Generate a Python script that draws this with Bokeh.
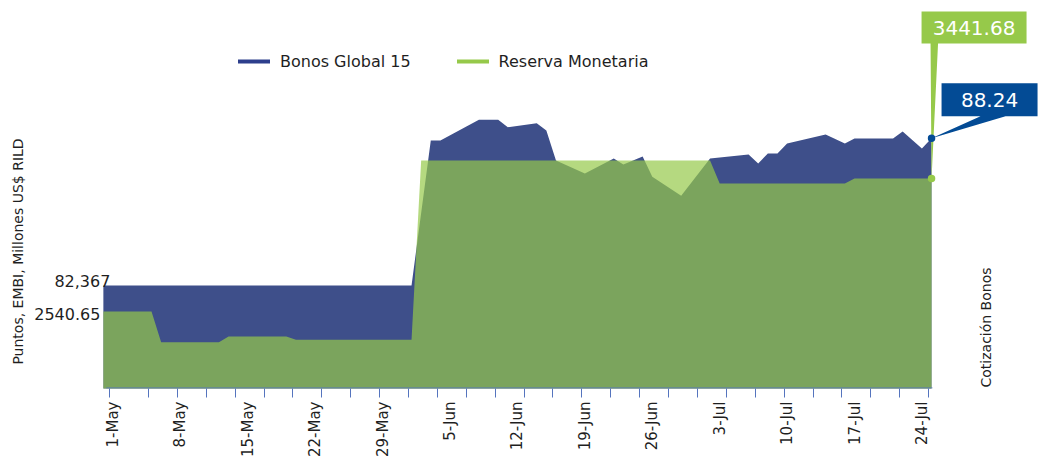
import math
import pandas as pd
from bokeh.plotting import figure
from bokeh.models import Range1d, FixedTicker, Legend, LegendItem, Label, PolyAnnotation
from bokeh.embed import file_html
from bokeh.resources import INLINE

# ---------------- data ----------------
base_date = pd.Timestamp("2013-05-01")

bonos_dates = ["2013-04-30", "2013-06-01", "2013-06-03", "2013-06-04", "2013-06-08",
               "2013-06-10", "2013-06-11", "2013-06-14", "2013-06-15", "2013-06-16",
               "2013-06-19", "2013-06-22", "2013-06-23", "2013-06-25", "2013-06-26",
               "2013-06-29", "2013-07-02", "2013-07-06", "2013-07-07", "2013-07-08",
               "2013-07-09", "2013-07-10", "2013-07-14", "2013-07-16", "2013-07-17",
               "2013-07-21", "2013-07-22", "2013-07-24", "2013-07-25"]
bonos_values = [82.367, 82.367, 88.15, 88.15, 88.98,
                88.98, 88.68, 88.84, 88.55, 87.35,
                86.83, 87.43, 87.19, 87.51, 86.70,
                85.95, 87.43, 87.59, 87.23, 87.63,
                87.63, 88.03, 88.39, 88.03, 88.23,
                88.23, 88.51, 87.83, 88.24]

reserva_dates = ["2013-04-30", "2013-05-05", "2013-05-06", "2013-05-12", "2013-05-13",
                 "2013-05-19", "2013-05-20", "2013-06-01", "2013-06-02", "2013-07-02",
                 "2013-07-03", "2013-07-16", "2013-07-17", "2013-07-25"]
reserva_values = [2540.65, 2540.65, 2332.6, 2332.6, 2371.3,
                  2371.3, 2348.9, 2348.9, 3563.7, 3563.7,
                  3407.9, 3407.9, 3441.68, 3441.68]

tick_labels = ["1-May", "8-May", "15-May", "22-May", "29-May", "5-Jun", "12-Jun",
               "19-Jun", "26-Jun", "3-Jul", "10-Jul", "17-Jul", "24-Jul"]

series_names = ["Bonos Global 15", "Reserva Monetaria"]
left_title = "Puntos, EMBI, Millones US$ RILD"
right_title = "Cotización Bonos"

# ---------------- helpers ----------------
def to_days(dates):
    return [(pd.Timestamp(d) - base_date).days for d in dates]

bonos_x = to_days(bonos_dates)
reserva_x = to_days(reserva_dates)
tick_pos = [(pd.to_datetime(t + "-2013", format="%d-%b-%Y") - base_date).days
            for t in tick_labels]

BLUE_AREA = "#3E4F8A"
BLUE_LINE = "#2D3E8C"
GREEN = "#96C94A"
CALLOUT_BLUE = "#034B95"
TICK_BLUE = "#5574BE"
TEXT = "#1f1f1f"
FONT = "DejaVu Sans"

# canvas / frame geometry in page pixels (frame covers the canvas above the axis)
W, H = 1038, 460
FB = 388                      # bottom of the frame (axis position)
X0, X1 = -11.682, 96.106      # days at px 0 and px W
Y0, Y1 = 2018.97, 4647.7      # reserva at px FB and px 0
YB0, YB1 = 78.26, 93.73       # bonos at px FB and px 0

def px_x(d):
    return (d - X0) / (X1 - X0) * W

def py_l(v):
    return FB - (v - Y0) / (Y1 - Y0) * FB

def py_r(v):
    return FB - (v - YB0) / (YB1 - YB0) * FB

def dx(px):
    return X0 + px / W * (X1 - X0)

def dy(py):
    return Y0 + (FB - py) / FB * (Y1 - Y0)

p = figure(width=W, height=H, x_range=Range1d(X0, X1), y_range=Range1d(Y0, Y1),
           output_backend="svg", toolbar_location=None, y_axis_location=None,
           min_border_left=0, min_border_right=0, min_border_top=0,
           min_border_bottom=H - FB)
p.extra_y_ranges = {"bonos": Range1d(YB0, YB1)}
p.outline_line_color = None
p.grid.visible = False
p.background_fill_color = "white"
p.border_fill_color = "white"

# areas
p.varea(x=bonos_x, y1=0, y2=bonos_values, fill_color=BLUE_AREA, y_range_name="bonos")
p.varea(x=reserva_x, y1=0, y2=reserva_values, fill_color=GREEN, fill_alpha=0.7)

# category axis line under the data only
p.segment(x0=[bonos_x[0] + 0.3], x1=[bonos_x[-1] + 0.1], y0=[dy(FB - 0.5)], y1=[dy(FB - 0.5)],
          line_color=TICK_BLUE, line_width=1)

# x axis
ax = p.xaxis[0]
minor = [-0.36] + [3.69 + 3.0 * k for k in range(28)]
ax.ticker = FixedTicker(ticks=tick_pos, minor_ticks=minor)
ax.major_label_overrides = {pos: lab for pos, lab in zip(tick_pos, tick_labels)}
ax.major_label_orientation = math.pi / 2
ax.major_tick_line_color = None
ax.major_tick_out = 9
ax.major_tick_in = 0
ax.minor_tick_in = 0
ax.minor_tick_out = 9
ax.minor_tick_line_color = TICK_BLUE
ax.axis_line_color = None
ax.major_label_standoff = 4
ax.major_label_text_font = FONT
ax.major_label_text_font_size = "15px"
ax.major_label_text_color = TEXT

# legend (line glyphs; their own data lies outside the visible range)
off_x = [X0 - 5, X0 - 4]
lb = p.line(off_x, [bonos_values[0]] * 2, line_color=BLUE_LINE, line_width=4,
            line_cap="round", y_range_name="bonos")
lg = p.line(off_x, [reserva_values[0]] * 2, line_color=GREEN, line_width=4,
            line_cap="round")
legend = Legend(items=[LegendItem(label=series_names[0], renderers=[lb]),
                       LegendItem(label=series_names[1], renderers=[lg])],
                orientation="horizontal", location=(238, FB - 61 - 10),
                glyph_width=32, glyph_height=20, label_height=20,
                label_standoff=10, spacing=46, padding=0, margin=0,
                label_text_font=FONT, label_text_font_size="16px",
                label_text_color=TEXT, background_fill_alpha=0,
                border_line_alpha=0)
p.add_layout(legend)

# first-value labels on the left
p.add_layout(Label(x=bonos_x[0], y=bonos_values[0], y_range_name="bonos",
                   text=f"{bonos_values[0]:.3f}".replace(".", ","),
                   x_offset=7, y_offset=4, text_align="right", text_baseline="alphabetic",
                   text_font=FONT, text_font_size="16px", text_color=TEXT))
p.add_layout(Label(x=reserva_x[0], y=reserva_values[0],
                   text=f"{reserva_values[0]:.2f}",
                   x_offset=-3, y_offset=-2, text_align="right", text_baseline="alphabetic",
                   text_font=FONT, text_font_size="16px", text_color=TEXT))

# axis titles
p.add_layout(Label(x=dx(17), y=dy(251), text=left_title, angle=math.pi / 2,
                   text_align="center", text_baseline="middle",
                   text_font=FONT, text_font_size="14px", text_color=TEXT))
p.add_layout(Label(x=dx(985), y=dy(327), text=right_title, angle=math.pi / 2,
                   text_align="center", text_baseline="middle",
                   text_font=FONT, text_font_size="14px", text_color=TEXT))

# callouts anchored to the last points
gx, gy = px_x(reserva_x[-1]), py_l(reserva_values[-1])
bx, by = px_x(bonos_x[-1]), py_r(bonos_values[-1])

g_top, g_bot = gy - 167, gy - 135
g_poly = [(gx - 10, g_top), (gx + 95, g_top), (gx + 95, g_bot), (gx + 6.5, g_bot),
          (gx, gy), (gx - 1, g_bot), (gx - 10, g_bot)]
b_top, b_bot = by - 55, by - 22
b_poly = [(bx + 10, b_top), (bx + 106, b_top), (bx + 106, b_bot), (bx + 74, b_bot),
          (bx, by), (bx + 49, b_bot), (bx + 10, b_bot)]

p.add_layout(PolyAnnotation(xs=[dx(a) for a, _ in g_poly], ys=[dy(b) for _, b in g_poly],
                            fill_color=GREEN, fill_alpha=1.0, line_color=None))
p.add_layout(PolyAnnotation(xs=[dx(a) for a, _ in b_poly], ys=[dy(b) for _, b in b_poly],
                            fill_color=CALLOUT_BLUE, fill_alpha=1.0, line_color=None))

p.add_layout(Label(x=dx(gx + 42.5), y=dy((g_top + g_bot) / 2),
                   text=f"{reserva_values[-1]:.2f}",
                   text_align="center", text_baseline="middle", text_font=FONT,
                   text_font_size="20px", text_color="white"))
p.add_layout(Label(x=dx(bx + 58), y=dy((b_top + b_bot) / 2),
                   text=f"{bonos_values[-1]:.2f}",
                   text_align="center", text_baseline="middle", text_font=FONT,
                   text_font_size="20px", text_color="white"))

# end-point dots
p.scatter(x=[bonos_x[-1]], y=[bonos_values[-1]], size=7.5, fill_color=CALLOUT_BLUE,
          line_color=None, y_range_name="bonos", level="overlay")
p.scatter(x=[reserva_x[-1]], y=[reserva_values[-1]], size=7.5, fill_color=GREEN,
          line_color=None, level="overlay")

open("out.html", "w").write(file_html(p, INLINE))
